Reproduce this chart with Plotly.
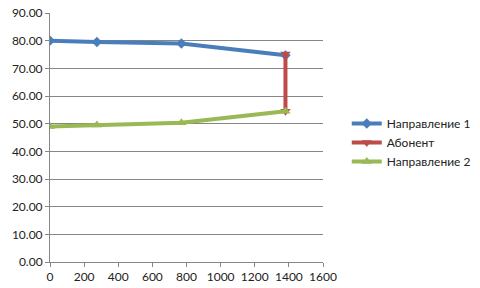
import plotly.graph_objects as go

x1 = [0, 275, 770, 1380]
y1 = [80.0, 79.5, 79.0, 74.7]
xa = [1380, 1380]
ya = [75.2, 54.5]
x2 = [0, 275, 770, 1380]
y2 = [49.0, 49.5, 50.3, 54.5]

names = ["Направление 1", "Абонент", "Направление 2"]
colors = ["#4A7EBB", "#BE4B48", "#98B954"]

fig = go.Figure()
fig.add_trace(go.Scatter(x=x1, y=y1, name=names[0], mode="lines+markers",
                         line=dict(color=colors[0], width=4),
                         marker=dict(symbol="diamond", size=8, color=colors[0])))
fig.add_trace(go.Scatter(x=xa, y=ya, name=names[1], mode="lines+markers",
                         line=dict(color=colors[1], width=4),
                         marker=dict(symbol="triangle-down", size=9, color=colors[1])))
fig.add_trace(go.Scatter(x=x2, y=y2, name=names[2], mode="lines+markers",
                         line=dict(color=colors[2], width=4),
                         marker=dict(symbol="triangle-up", size=9, color=colors[2])))

fig.update_layout(
    width=480, height=288,
    margin=dict(l=50, r=157, t=13, b=26, autoexpand=False),
    paper_bgcolor="white", plot_bgcolor="white",
    font=dict(family="Lato, Carlito, sans-serif", size=12, color="#222"),
    showlegend=True,
    legend=dict(x=1.087, y=0.48, yanchor="middle", xanchor="left",
                font=dict(size=12), tracegroupgap=0, itemwidth=30),
)
fig.update_xaxes(range=[0, 1600], dtick=200, showgrid=False, automargin=False,
                 showline=True, linecolor="#868686", linewidth=1,
                 ticks="outside", ticklen=4, tickcolor="#868686", zeroline=False)
fig.update_yaxes(range=[0, 90], dtick=10, tickformat=".2f", automargin=False,
                 showgrid=True, gridcolor="#868686", gridwidth=1,
                 showline=True, linecolor="#868686", linewidth=1,
                 ticks="outside", ticklen=4, tickcolor="#868686", zeroline=False)

fig.write_html("out.html")
